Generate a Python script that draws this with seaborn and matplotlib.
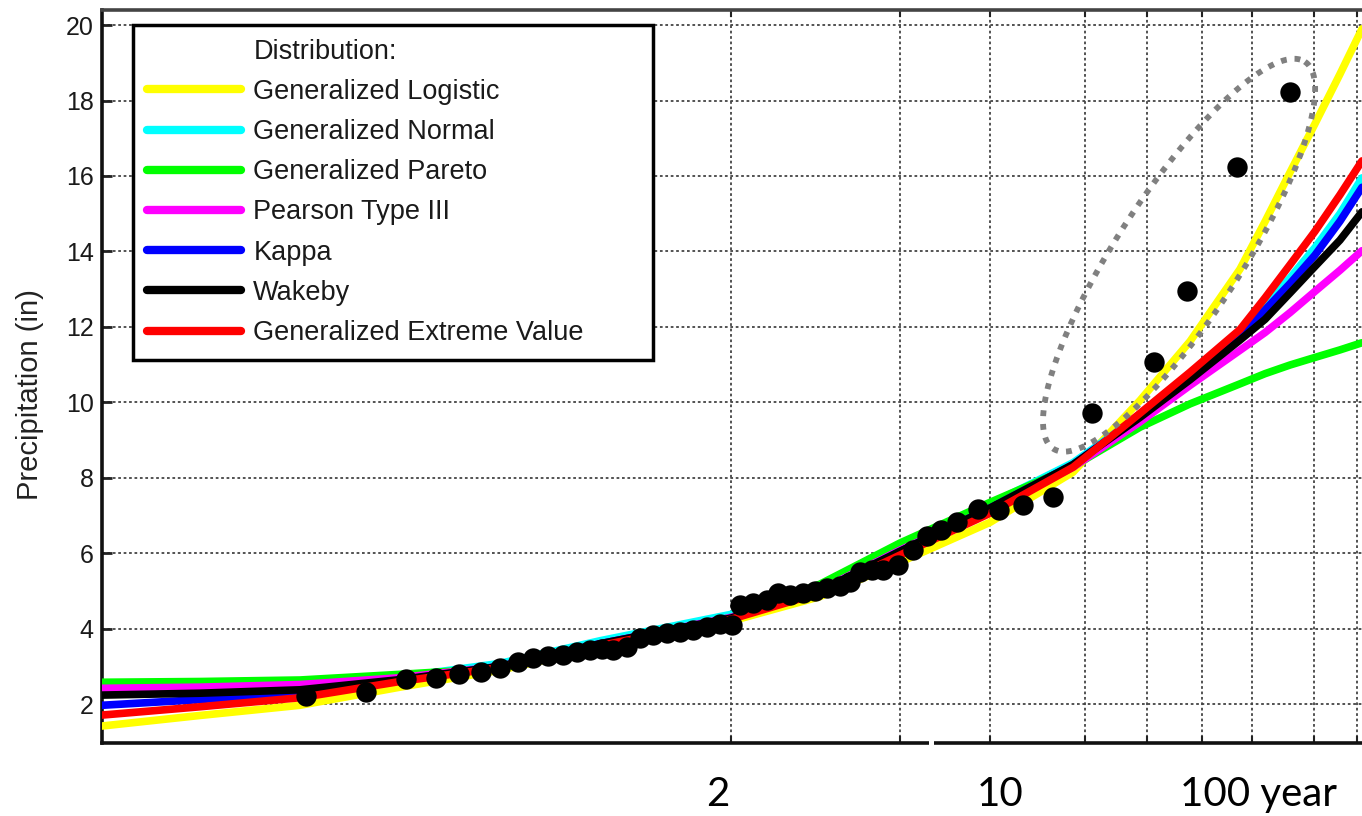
import numpy as np
import pandas as pd
import matplotlib
matplotlib.use("Agg")
import matplotlib.pyplot as plt
import seaborn as sns
from matplotlib.lines import Line2D
from matplotlib.transforms import blended_transform_factory

# x axis: standard normal variate of non-exceedance probability
curve_x = [-2.510, -2.119, -1.720, -1.321, -0.922, -0.523, 0.0, 0.355, 0.674, 1.034,
           1.365, 1.632, 1.832, 2.031, 2.131, 2.231, 2.330, 2.430, 2.518]

glo = [1.42, 1.70, 1.97, 2.45, 2.90, 3.50, 4.20, 4.85, 5.76, 6.82,
       8.15, 10.05, 11.62, 13.53, 14.79, 16.10, 17.38, 18.70, 19.90]
gno = [2.38, 2.40, 2.48, 2.72, 3.08, 3.68, 4.38, 5.12, 6.15, 7.30,
       8.40, 9.65, 10.70, 11.90, 12.60, 13.30, 14.10, 15.00, 15.95]
gpa = [2.58, 2.60, 2.64, 2.79, 2.95, 3.55, 4.30, 5.18, 6.27, 7.35,
       8.30, 9.34, 9.96, 10.49, 10.76, 10.99, 11.19, 11.39, 11.58]
pe3 = [2.42, 2.45, 2.52, 2.70, 3.00, 3.60, 4.30, 5.02, 6.08, 7.18,
       8.28, 9.48, 10.45, 11.38, 11.85, 12.38, 12.94, 13.50, 14.02]
kap = [1.97, 2.12, 2.32, 2.63, 3.00, 3.60, 4.28, 5.00, 6.05, 7.20,
       8.35, 9.63, 10.65, 11.80, 12.45, 13.15, 13.90, 14.80, 15.70]
wak = [2.24, 2.29, 2.38, 2.65, 3.00, 3.60, 4.28, 5.00, 6.05, 7.20,
       8.35, 9.60, 10.60, 11.65, 12.20, 12.90, 13.60, 14.30, 15.05]
gev = [1.71, 1.93, 2.17, 2.60, 2.97, 3.55, 4.25, 4.95, 5.95, 7.06,
       8.28, 9.71, 10.80, 11.93, 12.77, 13.65, 14.53, 15.50, 16.40]

dist_names = ["Generalized Logistic", "Generalized Normal", "Generalized Pareto",
              "Pearson Type III", "Kappa", "Wakeby", "Generalized Extreme Value"]
dist_colors = ["#FFFF00", "#00FFFF", "#00FF00", "#FF00FF", "#0000FF", "#000000", "#FF0000"]
dist_values = [glo, gno, gpa, pe3, kap, wak, gev]

obs_x = [-1.696, -1.457, -1.297, -1.177, -1.085, -0.998, -0.922, -0.850, -0.790, -0.730,
         -0.670, -0.615, -0.563, -0.515, -0.471, -0.415, -0.363, -0.311, -0.255, -0.204,
         -0.152, -0.096, -0.044, 0.004, 0.036, 0.088, 0.144, 0.188, 0.235, 0.287,
         0.335, 0.383, 0.435, 0.475, 0.515, 0.563, 0.607, 0.666, 0.726, 0.782,
         0.838, 0.902, 0.986, 1.069, 1.165, 1.285, 1.441, 1.688, 1.820, 2.019, 2.231]
obs_y = [2.21, 2.32, 2.66, 2.69, 2.79, 2.85, 2.95, 3.11, 3.22, 3.27,
         3.30, 3.38, 3.43, 3.46, 3.43, 3.51, 3.75, 3.83, 3.88, 3.91,
         3.96, 4.04, 4.12, 4.09, 4.62, 4.68, 4.76, 4.94, 4.89, 4.94,
         4.99, 5.07, 5.13, 5.23, 5.50, 5.55, 5.55, 5.68, 6.08, 6.45,
         6.61, 6.82, 7.17, 7.14, 7.27, 7.49, 9.71, 11.07, 12.95, 16.24, 18.22]

grid_x = [0.0, 0.674, 1.034, 1.413, 1.660, 1.879, 2.079, 2.326, 2.498]
y_ticks = [2, 4, 6, 8, 10, 12, 14, 16, 18, 20]
period_labels = ["2", "10", "100 year"]
period_label_x = [-0.052, 1.073, 2.103]

# highlight ellipse around the largest observations (center, semi-axis vectors)
ell_center = (1.788, 13.90)
ell_a = (0.502, 5.13)
ell_b = (0.207, -0.896)

# ---------------------------------------------------------------------------
sns.set_style("white")
plt.rcParams["font.family"] = ["Liberation Sans", "DejaVu Sans"]

fig = plt.figure(figsize=(13.62, 8.16), dpi=100)
ax = fig.add_axes([102 / 1362, 73 / 816, 1260 / 1362, 733 / 816])

rows = []
for name, vals in zip(dist_names, dist_values):
    for xv, yv in zip(curve_x, vals):
        rows.append({"x": xv, "y": yv, "dist": name})
df = pd.DataFrame(rows)

sns.lineplot(data=df, x="x", y="y", hue="dist", hue_order=dist_names,
             palette=dict(zip(dist_names, dist_colors)), linewidth=5.5,
             sort=False, estimator=None, legend=False, ax=ax, zorder=3)

sns.scatterplot(x=obs_x, y=obs_y, color="black", s=215, linewidth=0,
                legend=False, ax=ax, zorder=6)

t = np.linspace(0, 2 * np.pi, 300)
ex = ell_center[0] + np.cos(t) * ell_a[0] + np.sin(t) * ell_b[0]
ey = ell_center[1] + np.cos(t) * ell_a[1] + np.sin(t) * ell_b[1]
ax.plot(ex, ey, color="#808080", lw=4.2, linestyle=(0, (1, 1.35)),
        dash_capstyle="butt", zorder=7)

ax.set_xlim(-2.51, 2.518)
ax.set_ylim(0.97, 20.4)

ax.set_xticks(grid_x)
ax.set_xticklabels([])
ax.set_yticks(y_ticks)
ax.set_yticklabels([str(v) for v in y_ticks])
ax.tick_params(axis="x", direction="in", top=True, bottom=True, length=5, width=1.5,
               color="#222222")
ax.tick_params(axis="y", direction="in", left=True, right=False, length=7, width=2,
               labelsize=18, labelcolor="#1a1a1a", pad=6, color="#222222")

ax.set_axisbelow(True)
ax.grid(True, color="#444444", lw=1.3, linestyle=(0, (1.5, 1.5)))

for side in ["left", "bottom"]:
    ax.spines[side].set_linewidth(2.6)
    ax.spines[side].set_color("#111111")
ax.spines["top"].set_linewidth(2.6)
ax.spines["top"].set_color("#444444")
ax.spines["right"].set_visible(False)

ax.set_xlabel("")
ax.set_ylabel("Precipitation (in)", fontsize=21, color="#222222")
ax.yaxis.set_label_coords(-0.046, 0.475)

# small break in the bottom axis line
trans = blended_transform_factory(ax.transData, ax.transAxes)
ax.plot([0.79, 0.81], [0, 0], transform=trans, color="white", lw=4,
        clip_on=False, zorder=10, solid_capstyle="butt")

for lab, xv in zip(period_labels, period_label_x):
    ax.text(xv, -0.086, lab, transform=trans, ha="center", va="baseline",
            fontsize=29, family=["Lato", "DejaVu Sans"], color="black")

handles = [Line2D([], [], color="none", label="Distribution:")]
handles += [Line2D([], [], color=c, lw=6, label=n) for n, c in zip(dist_names, dist_colors)]
leg = ax.legend(handles=handles, loc="upper left",
                bbox_to_anchor=(31 / 1260, 0.5, 520 / 1260, 0.4795),
                mode="expand", borderaxespad=0, fontsize=19.5, handlelength=3.5,
                handletextpad=0.44, labelspacing=0.525, borderpad=0.5,
                frameon=True, fancybox=False, framealpha=1)
leg.get_frame().set_edgecolor("black")
leg.get_frame().set_linewidth(2.5)
for txt in leg.get_texts():
    txt.set_color("#1a1a1a")
leg.set_zorder(20)

fig.savefig("out.png", dpi=100)
